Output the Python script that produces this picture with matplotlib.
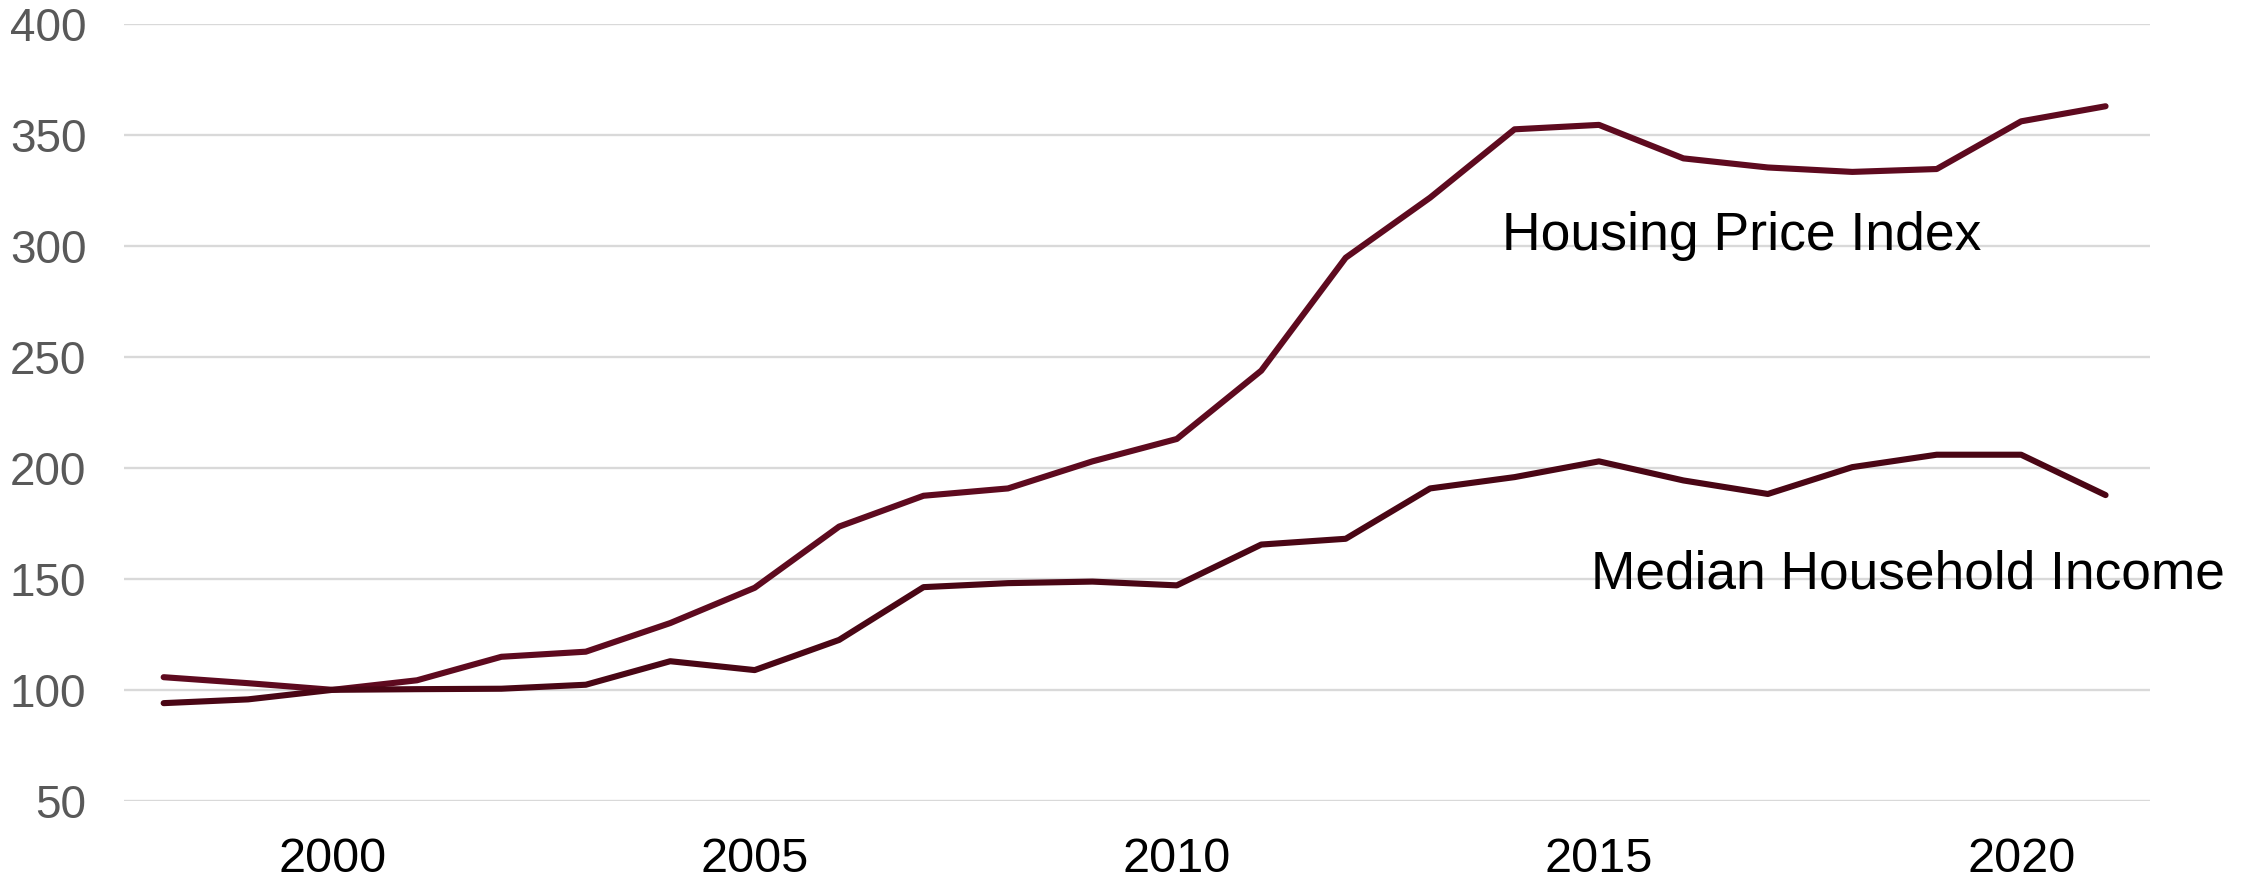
import matplotlib
matplotlib.use("Agg")
import matplotlib.pyplot as plt

years = list(range(1998, 2022))
housing_price_index = [105.7, 103.0, 100.0, 104.3, 114.9, 117.2, 130.1, 146.0, 173.6, 187.5,
                       190.8, 203.0, 213.1, 243.9, 294.8, 321.9, 352.7, 354.7, 339.6, 335.5,
                       333.5, 334.8, 356.3, 363.1]
median_household_income = [94.0, 95.7, 100.0, 100.3, 100.5, 102.3, 112.9, 108.9, 122.5, 146.3,
                           148.1, 148.8, 147.1, 165.5, 168.1, 190.8, 195.9, 203.0, 194.4, 188.3,
                           200.4, 206.0, 206.0, 187.8]
y_ticks = [50, 100, 150, 200, 250, 300, 350, 400]
x_ticks = [2000, 2005, 2010, 2015, 2020]

plt.rcParams['font.family'] = ['Liberation Sans', 'DejaVu Sans']

fig = plt.figure(figsize=(22.54, 8.81), dpi=100)
ax = fig.add_axes([0.055, 0.0911, 0.899, 0.8812])

for y in y_ticks:
    ax.axhline(y, color='#d9d9d9', lw=1.7, zorder=1)

ax.plot(years, housing_price_index, color='#5e0a1f', lw=4.4, solid_capstyle='round',
        solid_joinstyle='round', zorder=3)
ax.plot(years, median_household_income, color='#4a0615', lw=4.4, solid_capstyle='round',
        solid_joinstyle='round', zorder=3)

ax.text(2013.85, 298.3, "Housing Price Index", fontsize=38.5, color='black',
        ha='left', va='baseline', zorder=4)
ax.text(2014.9, 145.9, "Median Household Income", fontsize=38.3, color='black',
        ha='left', va='baseline', zorder=4)

ax.set_xlim(1997.53, 2021.53)
ax.set_ylim(50, 400)
ax.set_yticks(y_ticks)
ax.set_yticklabels([str(v) for v in y_ticks], fontsize=33, color='#595959')
ax.set_xticks(x_ticks)
ax.set_xticklabels([str(v) for v in x_ticks], fontsize=35, color='black')
ax.tick_params(axis='both', length=0)
ax.tick_params(axis='y', pad=27)
ax.tick_params(axis='x', pad=26)
for s in ax.spines.values():
    s.set_visible(False)

fig.savefig("out.png", dpi=100, facecolor='white')
